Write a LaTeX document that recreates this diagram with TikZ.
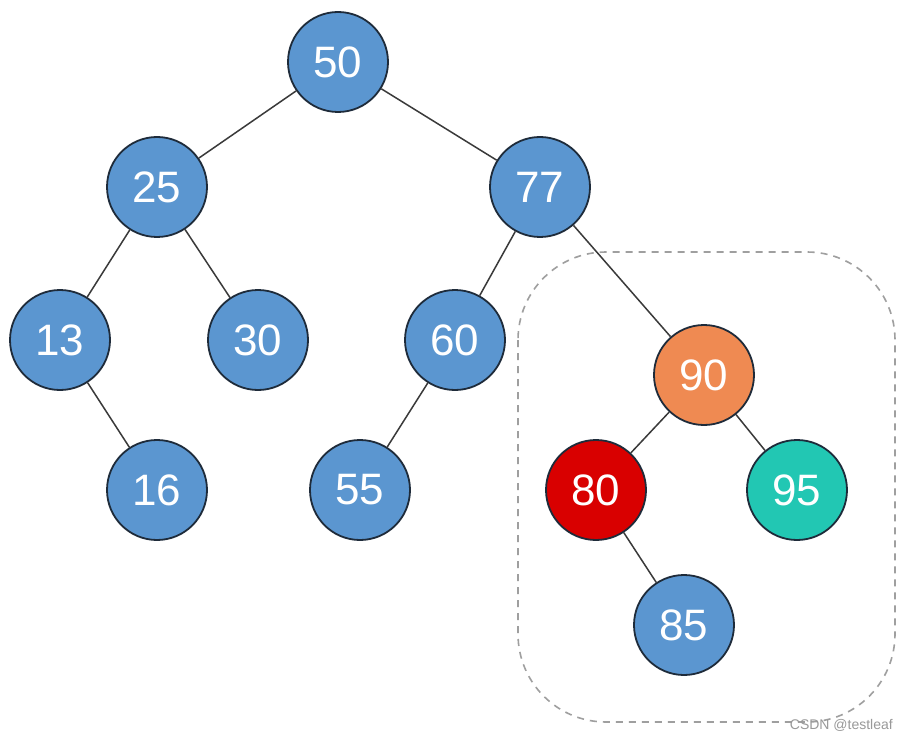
\documentclass[tikz,border=0pt]{standalone}
\usepackage{fontspec}
\setmainfont{Liberation Sans}
\definecolor{nblue}{HTML}{5B96D0}
\definecolor{norange}{HTML}{EF8A52}
\definecolor{nred}{HTML}{D90000}
\definecolor{nteal}{HTML}{22C7B3}
\definecolor{nline}{HTML}{1E2B3A}
\definecolor{eline}{HTML}{3A3A3A}
\begin{document}
\begin{tikzpicture}[x=1pt,y=-1pt,
  tnode/.style={circle,draw=nline,line width=1.8pt,fill=nblue,minimum size=100pt,inner sep=0pt,text=white,font=\fontsize{44}{44}\selectfont},
  edge/.style={draw=eline,line width=1.5pt}]
\useasboundingbox (0,0) rectangle (906,741);
\fill[white] (0,0) rectangle (906,741);
\draw[dashed,dash pattern=on 7pt off 6pt,draw=gray!75,line width=1.6pt,rounded corners=88pt] (518,252) rectangle (895,722);
\node[tnode] (n50) at (338,62) {50};
\node[tnode] (n25) at (157,187) {25};
\node[tnode] (n77) at (540,187) {77};
\node[tnode] (n13) at (60,340) {13};
\node[tnode] (n30) at (258,340) {30};
\node[tnode] (n60) at (455,340) {60};
\node[tnode,fill=norange] (n90) at (704,375) {90};
\node[tnode] (n16) at (157,490) {16};
\node[tnode] (n55) at (360,490) {55};
\node[tnode,fill=nred] (n80) at (596,490) {80};
\node[tnode,fill=nteal] (n95) at (797,490) {95};
\node[tnode] (n85) at (684,625) {85};
\path[edge] (n50) -- (n25);
\path[edge] (n50) -- (n77);
\path[edge] (n25) -- (n13);
\path[edge] (n25) -- (n30);
\path[edge] (n77) -- (n60);
\path[edge] (n77) -- (n90);
\path[edge] (n13) -- (n16);
\path[edge] (n60) -- (n55);
\path[edge] (n90) -- (n80);
\path[edge] (n90) -- (n95);
\path[edge] (n80) -- (n85);
\node[text=gray!80,font=\fontsize{14}{14}\selectfont,anchor=east,inner sep=0pt] (wm) at (893,725) {CSDN @testleaf};
\end{tikzpicture}
\end{document}
